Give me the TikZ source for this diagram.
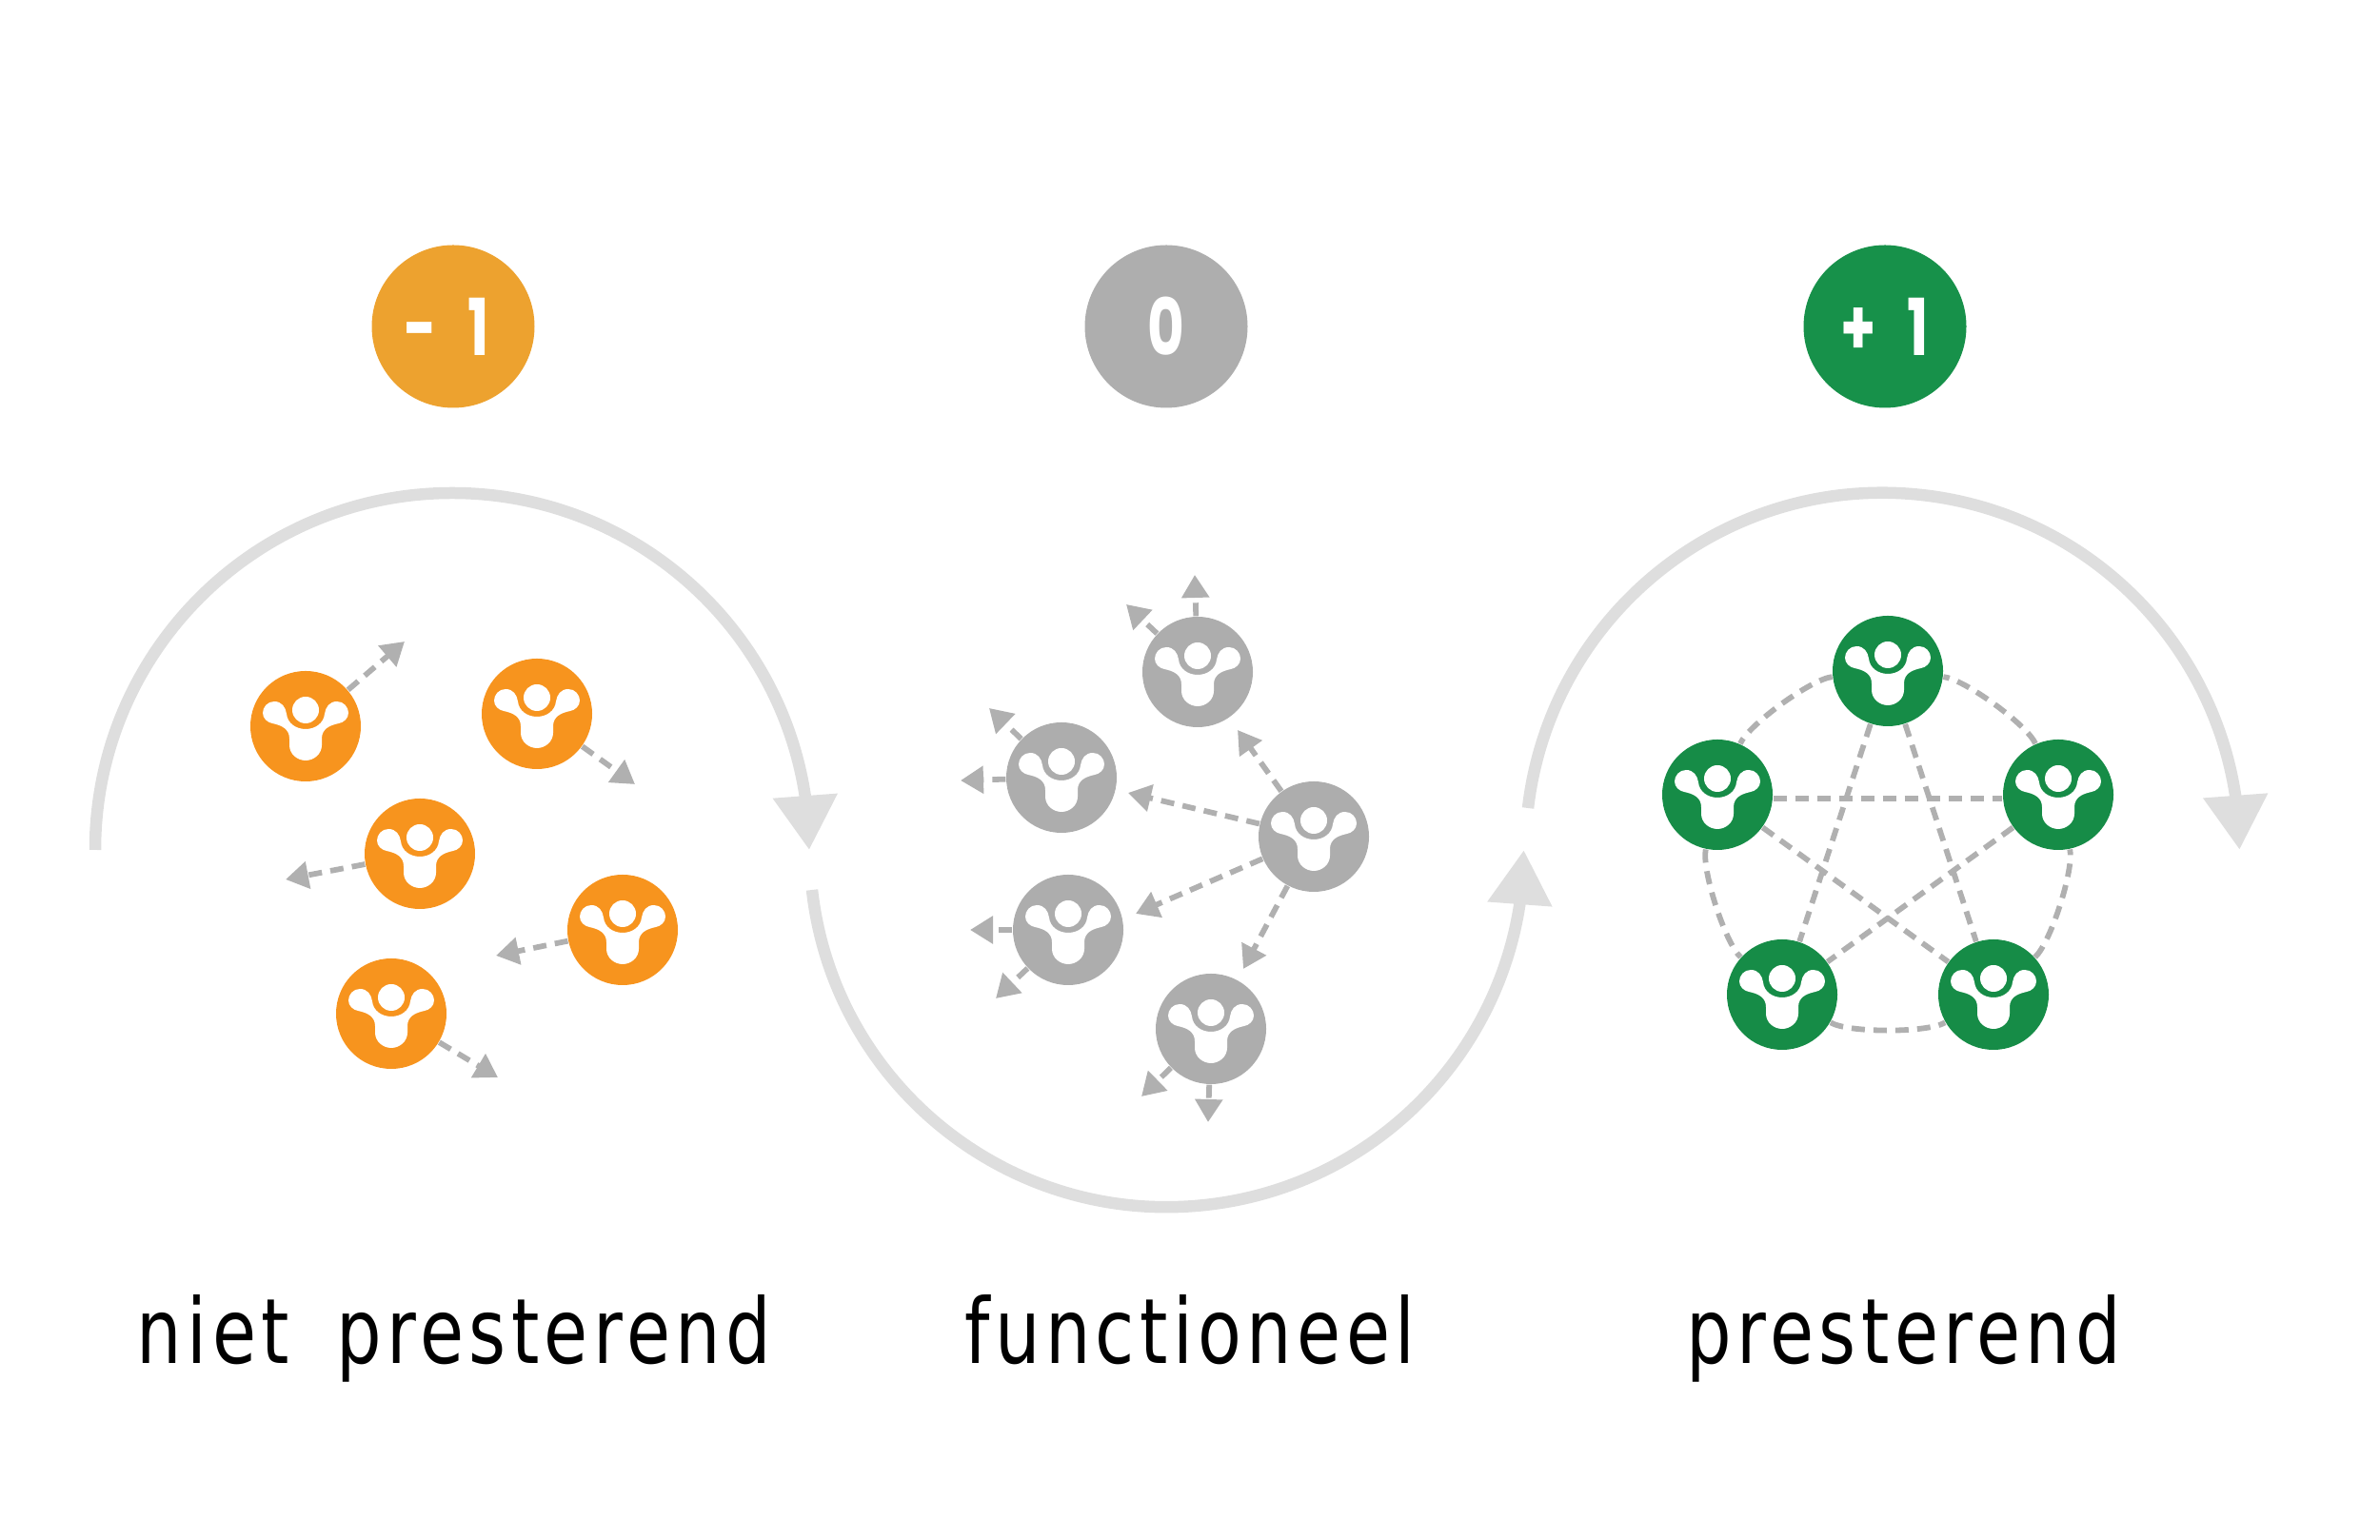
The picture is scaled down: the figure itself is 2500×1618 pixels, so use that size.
\documentclass[tikz,border=0pt]{standalone}
\usepackage{fontspec}
\setmainfont[FakeStretch=0.79, LetterSpace=5.7, WordSpace=1.7]{DejaVu Sans}
\newfontfamily\badgefont[FakeStretch=0.72, WordSpace=2.6]{Poppins Bold}
\usetikzlibrary{arrows.meta,bending}

\definecolor{badgeorange}{HTML}{EDA22F}
\definecolor{badgegray}{HTML}{AEAEAE}
\definecolor{badgegreen}{HTML}{17914A}
\definecolor{manorange}{HTML}{F7941E}
\definecolor{mangray}{HTML}{ADADAD}
\definecolor{mangreen}{HTML}{168C47}
\definecolor{ringgray}{HTML}{DEDEDE}
\definecolor{dashgray}{HTML}{B0B0B0}

\begin{document}
\begin{tikzpicture}[
    x=0.1mm, y=0.1mm,
    badge/.style={circle, fill=#1, minimum size=17.1mm, inner sep=0pt, text=white,
                  font=\fontsize{23.5}{25}\badgefont},
    man/.style={circle, fill=#1, minimum size=11.6mm, inner sep=0pt,
      path picture={
        \begin{scope}[shift={(path picture bounding box.center)}]
          \fill[white] (0,17) circle (14);
          \fill[white] (-33,26) .. controls (-25,26) and (-21,20) .. (-20,13)
            .. controls (-19,3) and (-10,-3) .. (0,-3)
            .. controls (10,-3) and (19,3) .. (20,13)
            .. controls (21,20) and (25,26) .. (33,26)
            .. controls (40,26) and (45,20) .. (45,14)
            .. controls (45,8) and (40,4) .. (35,3)
            .. controls (25,1) and (17,-3) .. (17,-13)
            -- (17,-20) .. controls (17,-29) and (9,-36) .. (0,-36)
            .. controls (-9,-36) and (-17,-29) .. (-17,-20)
            -- (-17,-13) .. controls (-17,-3) and (-25,1) .. (-35,3)
            .. controls (-40,4) and (-45,8) .. (-45,14)
            .. controls (-45,20) and (-40,26) .. (-33,26) -- cycle;
        \end{scope}
      }},
    ring/.style={-{Triangle[length=5.7mm, width=6.5mm]}, ringgray, line width=1.25mm},
    flee/.style={-{Triangle[length=2.4mm, width=2.8mm]}, dashgray, line width=0.58mm,
                 dash pattern=on 1.4mm off 0.9mm},
    link/.style={dashgray, line width=0.58mm, dash pattern=on 1.4mm off 0.9mm},
    label/.style={anchor=base, font=\fontsize{27}{30}\selectfont},
  ]
  \useasboundingbox (0,0) rectangle (2500,1618);

  % score badges
  \node[badge=badgeorange] (minus) at (476,1275) {- 1\kern1.4mm};
  \node[badge=badgegray] (zero) at (1225,1275) {0};
  \node[badge=badgegreen] (plus) at (1980,1275) {+ 1};

  % rings
  \coordinate (r1a) at (100,725);
  \coordinate (r2a) at (853,683);
  \coordinate (r3a) at (1605,769);
  \draw[ring] (r1a) arc[start angle=180, end angle=0, radius=375];
  \draw[ring] (r2a) arc[start angle=186.4, end angle=360, radius=375];
  \draw[ring] (r3a) arc[start angle=173.3, end angle=0, radius=375];

  % niet presterend
  \node[man=manorange] (o1) at (321,855) {};
  \node[man=manorange] (o2) at (564,868) {};
  \node[man=manorange] (o3) at (441,721) {};
  \node[man=manorange] (o4) at (654,641) {};
  \node[man=manorange] (o5) at (411,553) {};
  \coordinate (o1e) at (425,944);
  \coordinate (o2e) at (667,794);
  \coordinate (o3e) at (300,694);
  \coordinate (o4e) at (521,614);
  \coordinate (o5e) at (523,486);
  \draw[flee] (o1) -- (o1e);
  \draw[flee] (o2) -- (o2e);
  \draw[flee] (o3) -- (o3e);
  \draw[flee] (o4) -- (o4e);
  \draw[flee] (o5) -- (o5e);

  % functioneel
  \node[man=mangray] (g1) at (1258,912) {};
  \node[man=mangray] (g2) at (1115,801) {};
  \node[man=mangray] (g3) at (1122,641) {};
  \node[man=mangray] (g4) at (1380,739) {};
  \node[man=mangray] (g5) at (1272,537) {};
  \coordinate (g1u) at (1255,1014);
  \coordinate (g1l) at (1183,983);
  \coordinate (g2u) at (1039,874);
  \coordinate (g2l) at (1009,798);
  \coordinate (g3l) at (1019,641);
  \coordinate (g3d) at (1046,569);
  \coordinate (g4u) at (1300,851);
  \coordinate (g4l) at (1185,785);
  \coordinate (g4m) at (1193,658);
  \coordinate (g4d) at (1306,600);
  \coordinate (g5l) at (1199,466);
  \coordinate (g5d) at (1269,439);
  \draw[flee] (g1) -- (g1u);
  \draw[flee] (g1) -- (g1l);
  \draw[flee] (g2) -- (g2u);
  \draw[flee] (g2) -- (g2l);
  \draw[flee] (g3) -- (g3l);
  \draw[flee] (g3) -- (g3d);
  \draw[flee] (g4) -- (g4u);
  \draw[flee] (g4) -- (g4l);
  \draw[flee] (g4) -- (g4m);
  \draw[flee] (g4) -- (g4d);
  \draw[flee] (g5) -- (g5l);
  \draw[flee] (g5) -- (g5d);

  % presterend
  \node[man=mangreen] (p1) at (1983,913) {};
  \node[man=mangreen] (p2) at (1804,783) {};
  \node[man=mangreen] (p3) at (2162,783) {};
  \node[man=mangreen] (p4) at (1872,573) {};
  \node[man=mangreen] (p5) at (2094,573) {};
  \draw[link] (p1) to[bend right=30, looseness=0.47] (p2);
  \draw[link] (p2) to[bend right=30, looseness=0.47] (p4);
  \draw[link] (p4) to[bend right=30, looseness=0.47] (p5);
  \draw[link] (p5) to[bend right=30, looseness=0.47] (p3);
  \draw[link] (p3) to[bend right=30, looseness=0.47] (p1);
  \draw[link] (p1) -- (p4);
  \draw[link] (p1) -- (p5);
  \draw[link] ([yshift=-0.4mm]p2.east) -- ([yshift=-0.4mm]p3.west);
  \draw[link] (p2) -- (p5);
  \draw[link] (p3) -- (p4);

  % captions
  \node[label] (t1) at (477,185) {niet presterend};
  \node[label] (t2) at (1250,185) {functioneel};
  \node[label] (t3) at (2000,185) {presterend};
\end{tikzpicture}
\end{document}
